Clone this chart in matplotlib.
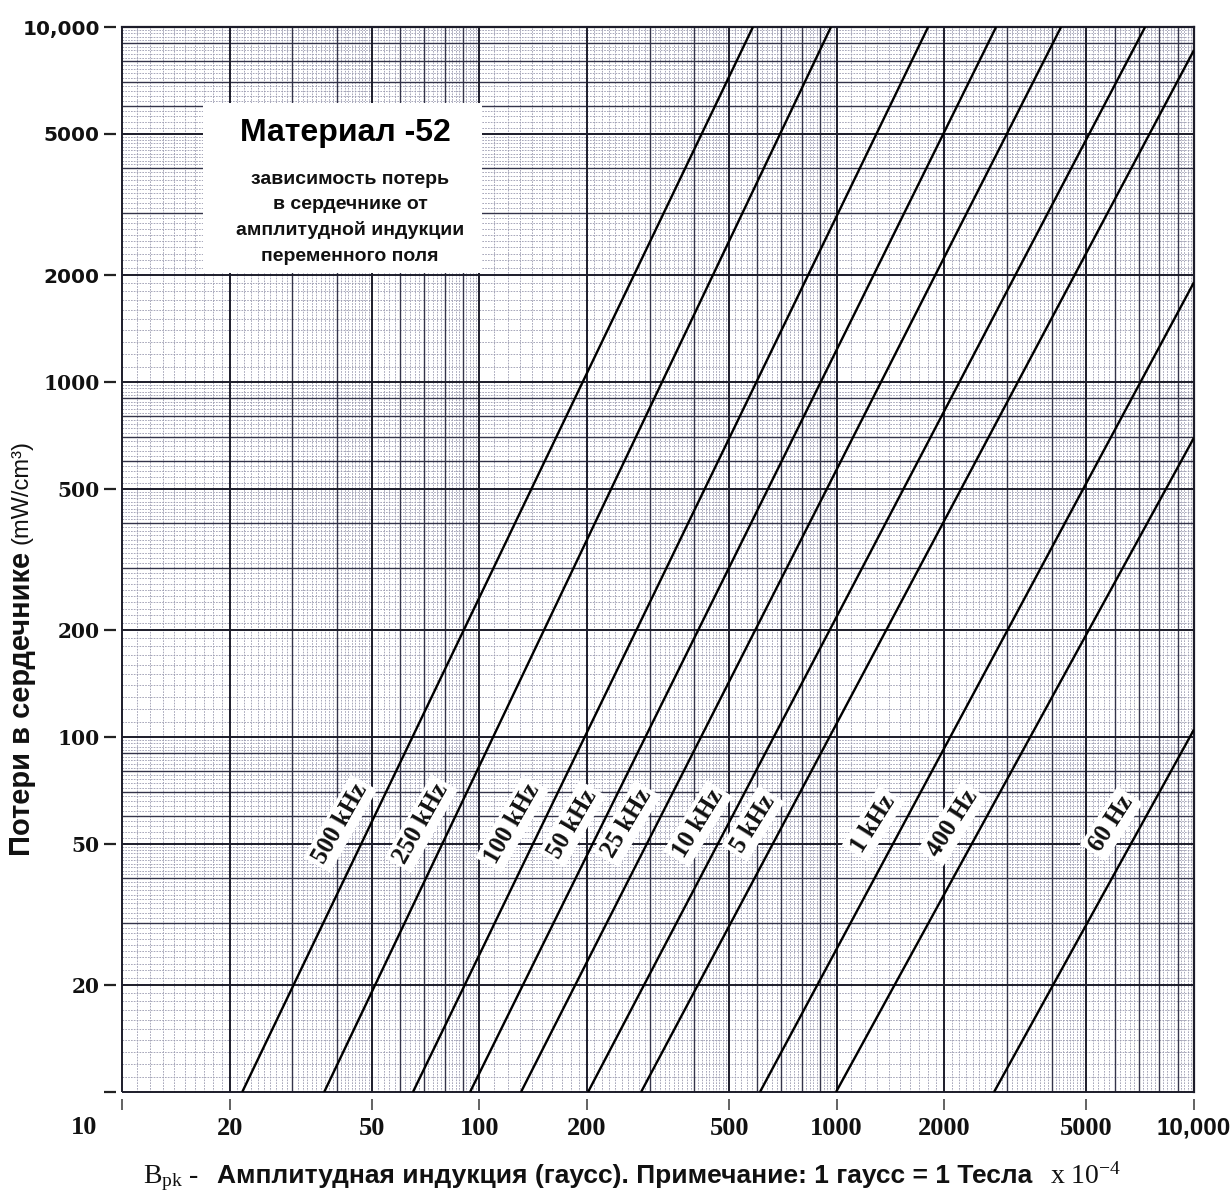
import numpy as np
import matplotlib
matplotlib.use("Agg")
import matplotlib.pyplot as plt
from matplotlib.patches import Rectangle
from matplotlib.offsetbox import TextArea, HPacker, AnchoredOffsetbox
from matplotlib.ticker import NullLocator, FixedLocator

plt.rcParams['mathtext.fontset'] = 'custom'
plt.rcParams['mathtext.rm'] = 'Liberation Serif'
plt.rcParams['mathtext.it'] = 'Liberation Serif:italic'
plt.rcParams['mathtext.bf'] = 'Liberation Serif:bold'

# ---------------- data ----------------
freq_labels = ["500 kHz", "250 kHz", "100 kHz", "50 kHz", "25 kHz",
               "10 kHz", "5 kHz", "1 kHz", "400 Hz", "60 Hz"]
# lower end of each line : flux density (gauss), loss (mW/cm3)
b_low = [21.7, 36.8, 65.2, 94.2, 130.8, 201.5, 283.6, 610, 996, 2757]
p_low = [10, 10, 10, 10, 10, 10, 10, 10, 10, 10]
# upper end of each line
b_high = [583, 964, 1803, 2794, 4246, 7298, 10000, 10000, 10000, 10000]
p_high = [10000, 10000, 10000, 10000, 10000, 10000, 8610, 1910, 697, 105]

x_ticks = [10, 20, 50, 100, 200, 500, 1000, 2000, 5000, 10000]
x_tick_labels = ["", "20", "50", "100", "200", "500", "1000", "2000", "5000", "10,000"]
y_ticks = [10, 20, 50, 100, 200, 500, 1000, 2000, 5000, 10000]
y_tick_labels = ["", "20", "50", "100", "200", "500", "1000", "2000", "5000", "10,000"]

title_text = "Материал -52"
subtitle_lines = ["зависимость потерь", "в сердечнике от",
                  "амплитудной индукции", "переменного поля"]
y_label_main = "Потери в сердечнике"
y_label_unit = "(mW/cm³)"
x_label_parts = [r"$\mathrm{B_{pk}}$ -", "Амплитудная индукция (гаусс). Примечание: 1 гаусс = 1 Тесла",
                 r"x 10$^{-4}$"]

# ---------------- figure ----------------
W, H = 1231, 1193
fig = plt.figure(figsize=(W / 100, H / 100), dpi=100)
fig.patch.set_facecolor('white')
L, R, T, B = 122, 1194, 27, 1092
ax = fig.add_axes([L / W, 1 - B / H, (R - L) / W, (B - T) / H])
ax.set_xscale('log')
ax.set_yscale('log')
ax.set_xlim(10, 10000)
ax.set_ylim(10, 10000)


def px2ax(px, py):
    return (px - L) / (R - L), (B - py) / (B - T)


# ---------------- graph-paper grid ----------------
def paper(decades):
    heavy, medium, fine = [], [], []
    for e in decades:
        d = 10.0 ** e
        for m in range(1, 10):
            (heavy if m in (1, 2, 5) else medium).append(m * d)
        for m in np.arange(1.1, 1.95, 0.1):
            fine.append(m * d)
        for m in np.arange(2.1, 4.95, 0.1):
            if abs(m - round(m)) > 1e-6:
                fine.append(m * d)
        for m in np.arange(5.2, 9.95, 0.2):
            if abs(m - round(m)) > 1e-6:
                fine.append(m * d)
    heavy.append(10.0 ** (decades[-1] + 1))
    return heavy, medium, fine


hv, md, fn = paper([1, 2, 3])
gc_heavy, gc_med, gc_fine = '#1c1c2a', '#34344a', '#9a9ab0'
ax.vlines(fn, 10, 10000, colors=gc_fine, lw=0.6, linestyles=(0, (2.0, 1.4)), zorder=1)
ax.hlines(fn, 10, 10000, colors=gc_fine, lw=0.6, linestyles=(0, (2.0, 1.4)), zorder=1)
ax.vlines(md, 10, 10000, colors=gc_med, lw=1.0, zorder=2)
ax.hlines(md, 10, 10000, colors=gc_med, lw=1.0, zorder=2)
ax.vlines(hv, 10, 10000, colors=gc_heavy, lw=1.4, zorder=2, clip_on=False)
ax.hlines(hv, 10, 10000, colors=gc_heavy, lw=1.4, zorder=2, clip_on=False)

# ---------------- curves ----------------
for i, lab in enumerate(freq_labels):
    ax.plot([b_low[i], b_high[i]], [p_low[i], p_high[i]], color='black',
            lw=1.7, zorder=5, solid_capstyle='butt')

# curve labels
label_loss = 57.0
for i, lab in enumerate(freq_labels):
    lp0, lp1 = np.log10(p_low[i]), np.log10(p_high[i])
    lb0, lb1 = np.log10(b_low[i]), np.log10(b_high[i])
    t = (np.log10(label_loss) - lp0) / (lp1 - lp0)
    bx = 10 ** (lb0 + t * (lb1 - lb0))
    s0 = ax.transData.transform((b_low[i], p_low[i]))
    s1 = ax.transData.transform((b_high[i], p_high[i]))
    ang = np.degrees(np.arctan2(s1[1] - s0[1], s1[0] - s0[0])) - 4
    ax.annotate(lab, xy=(bx, label_loss), xytext=(-22, 0), textcoords='offset points',
                ha='center', va='center', rotation=ang, rotation_mode='anchor',
                fontsize=18, fontfamily='Liberation Serif', fontweight='bold',
                color='#111111', zorder=6,
                bbox=dict(boxstyle='square,pad=0.15', fc='white', ec='none'))

# ---------------- title box ----------------
x0, y0 = px2ax(203, 273)
x1, y1 = px2ax(482, 103)
ax.add_patch(Rectangle((x0, y0), x1 - x0, y1 - y0, transform=ax.transAxes,
                       facecolor='white', edgecolor='none', zorder=7))
cx, cy = px2ax(345, 133)
ax.text(cx, cy, title_text, transform=ax.transAxes, ha='center', va='center',
        fontsize=23, fontweight='bold', fontfamily='Liberation Sans', zorder=8)
for k, line in enumerate(subtitle_lines):
    tx, ty = px2ax(350, 179 + 25.7 * k)
    ax.text(tx, ty, line, transform=ax.transAxes, ha='center', va='center',
            fontsize=14, fontweight='bold', fontfamily='Liberation Sans',
            color='#111111', zorder=8)

# ---------------- spines & ticks ----------------
for s in ('top', 'right'):
    ax.spines[s].set_linewidth(1.6)
    ax.spines[s].set_color(gc_heavy)
ax.spines['left'].set_position(('outward', 4))
ax.spines['bottom'].set_position(('outward', 5))
ax.spines['left'].set_visible(False)
ax.spines['bottom'].set_visible(False)

ax.xaxis.set_major_locator(FixedLocator(x_ticks))
ax.yaxis.set_major_locator(FixedLocator(y_ticks))
ax.xaxis.set_minor_locator(NullLocator())
ax.yaxis.set_minor_locator(NullLocator())
ax.set_xticklabels(x_tick_labels)
ax.set_yticklabels(y_tick_labels)
ax.tick_params(axis='y', direction='out', length=9, width=1.6, pad=3, color='#222222')
ax.tick_params(axis='x', direction='out', length=8, width=1.3, pad=5, color='#555555')

for lbl in ax.get_yticklabels():
    txt = lbl.get_text()
    if txt in ("10,000", "5000", "2000"):
        lbl.set_fontfamily('DejaVu Sans')
        lbl.set_fontsize(14.5)
    else:
        lbl.set_fontfamily('DejaVu Serif')
        lbl.set_fontsize(14.5)
    lbl.set_fontweight('bold')
    lbl.set_color('#111111')
for lbl in ax.get_xticklabels():
    txt = lbl.get_text()
    if txt == "10,000":
        lbl.set_fontfamily('Liberation Sans')
        lbl.set_fontsize(17.5)
    else:
        lbl.set_fontfamily('Liberation Serif')
        lbl.set_fontsize(19)
    lbl.set_fontweight('bold')
    lbl.set_color('#111111')

fig.text(84 / W, 1 - 1128 / H, "10", ha='center', va='center', fontsize=19,
         fontfamily='Liberation Serif', fontweight='bold', color='#111111')

# ---------------- axis labels ----------------
renderer = fig.canvas.get_renderer()
t1 = fig.text(22 / W, 1 - 856 / H, y_label_main, rotation=90, ha='center', va='bottom',
              fontsize=21, fontweight='bold', fontfamily='Liberation Sans', color='#111111')
bb = t1.get_window_extent(renderer)
fig.text(22 / W, (bb.y1 + 8) / H, y_label_unit, rotation=90, ha='center', va='bottom',
         fontsize=17, fontfamily='Liberation Sans', color='#111111')

parts = [
    TextArea(x_label_parts[0], textprops=dict(fontsize=20, fontfamily='Liberation Serif', color='#111111')),
    TextArea(x_label_parts[1], textprops=dict(fontsize=19, fontweight='bold', fontfamily='Liberation Sans', color='#111111')),
    TextArea(x_label_parts[2], textprops=dict(fontsize=20, fontfamily='Liberation Serif', color='#111111')),
]
hp = HPacker(children=parts, align='baseline', pad=0, sep=13)
ab = AnchoredOffsetbox(loc='center', child=hp, bbox_to_anchor=(632 / W, 1 - 1178 / H),
                       bbox_transform=fig.transFigure, frameon=False, pad=0, borderpad=0)
fig.add_artist(ab)

fig.savefig('out.png', dpi=100, facecolor='white')
